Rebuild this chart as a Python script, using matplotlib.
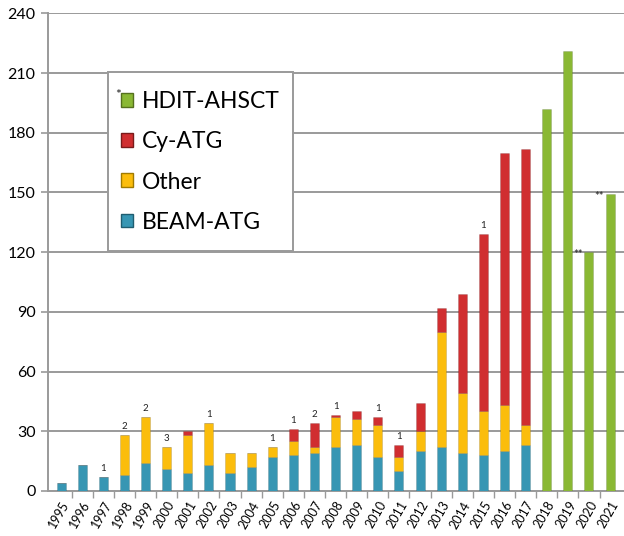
import matplotlib.pyplot as plt
import numpy as np
from matplotlib.patches import Patch, Rectangle

plt.rcParams['font.family'] = ['Lato', 'DejaVu Sans']

years = [str(y) for y in range(1995, 2022)]
beam_atg = [4, 13, 7, 8, 14, 11, 9, 13, 9, 12, 17, 18, 19, 22, 23, 17, 10, 20, 22, 19, 18, 20, 23, 0, 0, 0, 0]
other = [0, 0, 0, 20, 23, 11, 19, 21, 10, 7, 5, 7, 3, 15, 13, 16, 7, 10, 58, 30, 22, 23, 10, 0, 0, 0, 0]
cy_atg = [0, 0, 0, 0, 0, 0, 2, 0, 0, 0, 0, 6, 12, 1, 4, 4, 6, 14, 12, 50, 89, 127, 139, 0, 0, 0, 0]
hdit = [0] * 23 + [192, 221, 120, 149]

# small counts written above some bars
notes = {'1997': '1', '1998': '2', '1999': '2', '2000': '3', '2002': '1', '2005': '1',
         '2006': '1', '2007': '2', '2008': '1', '2010': '1', '2011': '1', '2015': '1'}
starred = ['2020', '2021']

c_teal = '#3796b3'
c_yellow = '#fbbd0c'
c_red = '#d02e30'
c_green = '#8ab834'
grid_c = '#9a9a9a'

fig = plt.figure(figsize=(6.24, 5.36), dpi=100)
ax = fig.add_axes([0.077, 0.084, 0.923, 0.891])

x = np.arange(len(years))
w = 0.43
b1 = np.array(beam_atg)
b2 = b1 + np.array(other)
b3 = b2 + np.array(cy_atg)
edge = dict(edgecolor='#00000022', linewidth=0.6)
ax.bar(x, beam_atg, w, color=c_teal, zorder=3, **edge)
ax.bar(x, other, w, bottom=b1, color=c_yellow, zorder=3, **edge)
ax.bar(x, cy_atg, w, bottom=b2, color=c_red, zorder=3, **edge)
ax.bar(x, hdit, w, color=c_green, zorder=3, **edge)

totals = b3 + np.array(hdit)
for i, yr in enumerate(years):
    if yr in notes:
        ax.text(x[i], totals[i] + 2, notes[yr], ha='center', va='bottom',
                fontsize=7, color='#222222', zorder=4)
    if yr in starred:
        ax.text(x[i] - 0.3, totals[i] - 1, '**', ha='right', va='center',
                fontsize=8, color='#222222', zorder=4)

ax.set_xlim(-0.62, 26.66)
ax.set_ylim(0, 240)
ax.set_yticks(range(0, 241, 30))
ax.yaxis.grid(True, color=grid_c, linewidth=1.4, zorder=0)
ax.set_axisbelow(True)
for s in ['top', 'right']:
    ax.spines[s].set_visible(False)
ax.spines['left'].set_color(grid_c)
ax.spines['left'].set_linewidth(1.4)
ax.spines['bottom'].set_color(grid_c)
ax.spines['bottom'].set_linewidth(1.4)

ax.set_xticks(x)
ax.set_xticklabels(years, rotation=60, ha='right', rotation_mode='anchor', fontsize=9)
ax.tick_params(axis='x', length=0, pad=6)
ax.set_xticks(x[:-1] + 0.5, minor=True)
ax.tick_params(axis='x', which='minor', length=5, color=grid_c, width=1)
ax.tick_params(axis='y', labelsize=11.5, length=5, color=grid_c, width=1.2, pad=4)

# legend box drawn separately so its padding can be set per side
box = Rectangle((108 / 624, 1 - 251 / 536), 185 / 624, 179 / 536, transform=fig.transFigure,
                facecolor='white', edgecolor=grid_c, linewidth=1.4, zorder=5)
fig.add_artist(box)

handles = [Patch(facecolor=c_green, edgecolor='#55701e', label='HDIT-AHSCT'),
           Patch(facecolor=c_red, edgecolor='#7a1a1a', label='Cy-ATG'),
           Patch(facecolor=c_yellow, edgecolor='#a07a00', label='Other'),
           Patch(facecolor=c_teal, edgecolor='#1f5d70', label='BEAM-ATG')]
leg = fig.legend(handles=handles, loc='center', bbox_to_anchor=(200 / 624, 1 - 162 / 536),
                 fontsize=16.5, frameon=False, borderpad=0,
                 handlelength=0.55, handleheight=0.55, handletextpad=0.35,
                 labelspacing=0.83, borderaxespad=0)
leg.set_zorder(6)
fig.text(118 / 624, 1 - 95 / 536, '*', fontsize=10, color='#222222',
         ha='center', va='center', zorder=7)

fig.savefig('out.png', dpi=100)
